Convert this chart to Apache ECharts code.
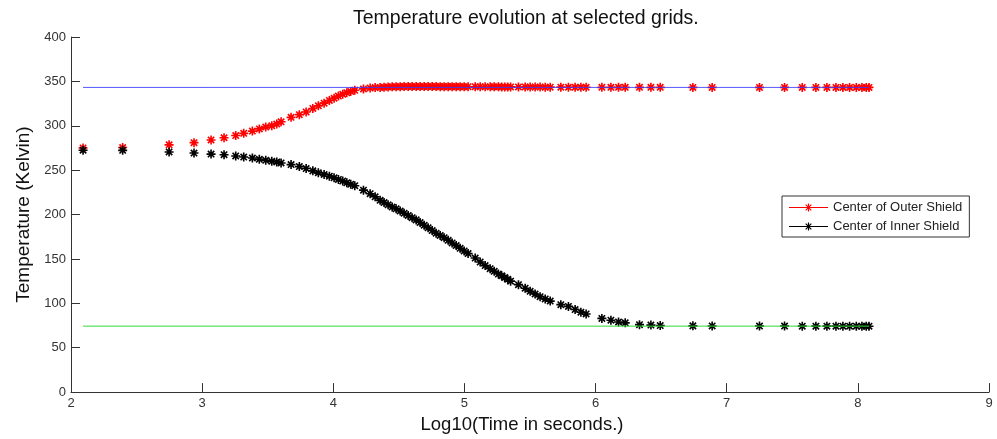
<!DOCTYPE html>
<html>
<head>
    <meta charset="utf-8">
    <script src="https://cdn.jsdelivr.net/npm/echarts@6/dist/echarts.min.js"></script>
</head>
<body style="margin:0">
    <div id="main" style="width: 997px;height:439px;"></div>
    <script>
        // log10 of time (s) at each output step
        var logTime = [2.092, 2.394, 2.748, 2.938, 3.068, 3.167, 3.256, 3.317, 3.383, 3.436,
            3.485, 3.531, 3.569, 3.602, 3.678, 3.741, 3.793, 3.844, 3.886, 3.930,
            3.970, 4.006, 4.039, 4.072, 4.103, 4.133, 4.164, 4.230, 4.281, 4.319,
            4.357, 4.387, 4.418, 4.449, 4.479, 4.510, 4.540, 4.571, 4.601, 4.632,
            4.662, 4.693, 4.723, 4.754, 4.784, 4.815, 4.845, 4.876, 4.906, 4.937,
            4.967, 4.998, 5.028, 5.082, 5.120, 5.158, 5.196, 5.227, 5.259, 5.284,
            5.307, 5.330, 5.352, 5.412, 5.463, 5.501, 5.539, 5.577, 5.616, 5.654,
            5.735, 5.793, 5.844, 5.888, 5.928, 6.048, 6.117, 6.175, 6.226, 6.335,
            6.422, 6.493, 6.742, 6.889, 7.250, 7.441, 7.576, 7.680, 7.764, 7.833,
            7.886, 7.937, 7.988, 8.031, 8.064, 8.085];

        // Center of Outer Shield (K)
        var outerTemp = [275, 275.5, 278.5, 281, 284, 286.5, 289, 291.5, 294, 296.5,
            298.5, 300, 302, 304.5, 309.5, 312.5, 315.5, 319.5, 322.5, 325.5,
            328.5, 331, 333.5, 335.5, 337.3, 338.7, 340, 341.5, 342.5, 343,
            343.2, 343.5, 343.7, 343.9, 344, 344.1, 344.2, 344.2, 344.2, 344.2,
            344.2, 344.2, 344.2, 344.2, 344.2, 344.1, 344.1, 344.1, 344.1, 344.1,
            344.1, 344, 344, 344, 344, 343.9, 343.9, 343.9, 343.9, 343.8,
            343.8, 343.8, 343.8, 343.7, 343.7, 343.6, 343.6, 343.6, 343.5, 343.5,
            343.5, 343.4, 343.4, 343.4, 343.4, 343.3, 343.3, 343.3, 343.3, 343.3,
            343.3, 343.3, 343.2, 343.2, 343.2, 343.2, 343.2, 343.2, 343.2, 343.2,
            343.2, 343.2, 343.2, 343.2, 343.2, 343.2];

        // Center of Inner Shield (K)
        var innerTemp = [272.5, 272.3, 270.5, 269.3, 268.1, 267.4, 266, 264.8, 263.7, 262.2,
            261.1, 260, 259.2, 258.1, 256.3, 254, 251.8, 249.2, 247, 245.1,
            243.2, 241.4, 239.6, 237.7, 235.8, 234, 232.5, 227.5, 223.5, 220,
            216, 213.5, 211, 208.5, 206.5, 204, 201.5, 199, 196.5, 194,
            191, 188, 185, 182, 179, 176.5, 174, 171, 168, 165,
            162, 159, 156, 151, 146.5, 142.5, 139, 136, 133, 131,
            129, 127, 125, 121, 117, 113.5, 110.5, 107.5, 105, 102.5,
            98.5, 96.5, 93, 90, 88, 83, 81, 79, 78, 76,
            75.5, 75, 74.6, 74.5, 74.4, 74.4, 74.3, 74.3, 74.3, 74.3,
            74.3, 74.3, 74.2, 74.2, 74.2, 74.2];

        // reference levels drawn as flat lines
        var lineSpan = [2.092, 8.085];
        var outerLevel = 343.2;
        var innerLevel = 74.3;

        var xTicks = { min: 2, max: 9, step: 1 };
        var yTicks = { min: 0, max: 400, step: 50 };

        var seriesNames = ['Center of Outer Shield', 'Center of Inner Shield'];

        var font = "'Liberation Sans', Arial, sans-serif";
        // asterisk marker (plus + cross), a bit heavier like the jpeg original
        var starPath = 'path://M4.1 0L5.9 0L5.9 10L4.1 10Z M0 4.1L10 4.1L10 5.9L0 5.9Z ' +
            'M2.1 0.83L9.17 7.9L7.9 9.17L0.83 2.1Z ' +
            'M9.17 2.1L2.1 9.17L0.83 7.9L7.9 0.83Z';
        // legend icon: line with asterisk in the middle
        var legendPath = 'path://M0 3.5L39 3.5L39 4.5L0 4.5Z M18.9 0L20.1 0L20.1 8L18.9 8Z ' +
            'M15.5 3.4L23.5 3.4L23.5 4.6L15.5 4.6Z ' +
            'M17.09 0.75L22.75 6.41L21.91 7.25L16.25 1.59Z ' +
            'M22.75 1.59L17.09 7.25L16.25 6.41L21.91 0.75Z';

        function pairs(ys) {
            return logTime.map(function (t, i) { return [t, ys[i]]; });
        }
        function flat(level) {
            return [[lineSpan[0], level], [lineSpan[1], level]];
        }

        var myChart = echarts.init(document.getElementById('main'));
        var option = {
            animation: false,
            backgroundColor: '#fff',
            title: {
                text: 'Temperature evolution at selected grids.',
                left: 353,
                top: 9,
                padding: 0,
                textStyle: { fontFamily: font, fontSize: 19.5, fontWeight: 'normal', color: '#111' }
            },
            legend: {
                orient: 'vertical',
                left: 782,
                top: 196,
                padding: [5, 7, 4, 7],
                itemGap: 6,
                itemWidth: 39,
                itemHeight: 8,
                backgroundColor: '#fff',
                borderColor: '#333',
                borderWidth: 1,
                borderRadius: 0,
                textStyle: { fontFamily: font, fontSize: 13, color: '#222' },
                data: [
                    { name: seriesNames[0], icon: legendPath },
                    { name: seriesNames[1], icon: legendPath }
                ]
            },
            grid: {
                left: 71,
                right: 8,
                top: 37,
                bottom: 43
            },
            xAxis: {
                type: 'value',
                min: xTicks.min,
                max: xTicks.max,
                interval: xTicks.step,
                name: 'Log10(Time in seconds.)',
                nameLocation: 'middle',
                nameGap: 19,
                nameTextStyle: { fontFamily: font, fontSize: 18.5, color: '#111', padding: [0, 16, 0, 0] },
                axisLine: { lineStyle: { color: '#333', width: 1 } },
                axisTick: { inside: true, length: 9, lineStyle: { color: '#333' } },
                axisLabel: { margin: 5, fontFamily: font, fontSize: 13, color: '#333' },
                splitLine: { show: false }
            },
            yAxis: {
                type: 'value',
                min: yTicks.min,
                max: yTicks.max,
                interval: yTicks.step,
                name: 'Temperature (Kelvin)',
                nameLocation: 'middle',
                nameGap: 38,
                nameTextStyle: { fontFamily: font, fontSize: 19, color: '#111' },
                axisLine: { show: true, lineStyle: { color: '#333', width: 1 } },
                axisTick: { show: true, inside: true, length: 9, lineStyle: { color: '#333' } },
                axisLabel: { margin: 5, fontFamily: font, fontSize: 13, color: '#333' },
                splitLine: { show: false }
            },
            series: [
                {
                    name: seriesNames[0],
                    type: 'scatter',
                    symbol: starPath,
                    symbolSize: 9,
                    itemStyle: { color: '#ff0000', opacity: 1 },
                    data: pairs(outerTemp),
                    z: 2
                },
                {
                    name: seriesNames[1],
                    type: 'scatter',
                    symbol: starPath,
                    symbolSize: 9,
                    itemStyle: { color: '#000000', opacity: 1 },
                    data: pairs(innerTemp),
                    z: 3
                },
                {
                    name: 'outerLevel',
                    type: 'line',
                    symbol: 'none',
                    silent: true,
                    lineStyle: { color: '#3a3aff', width: 1, opacity: 0.85 },
                    data: flat(outerLevel),
                    z: 4
                },
                {
                    name: 'innerLevel',
                    type: 'line',
                    symbol: 'none',
                    silent: true,
                    lineStyle: { color: '#33d633', width: 1 },
                    data: flat(innerLevel),
                    z: 4
                }
            ]
        };
        myChart.setOption(option);
    </script>
</body>
</html>
